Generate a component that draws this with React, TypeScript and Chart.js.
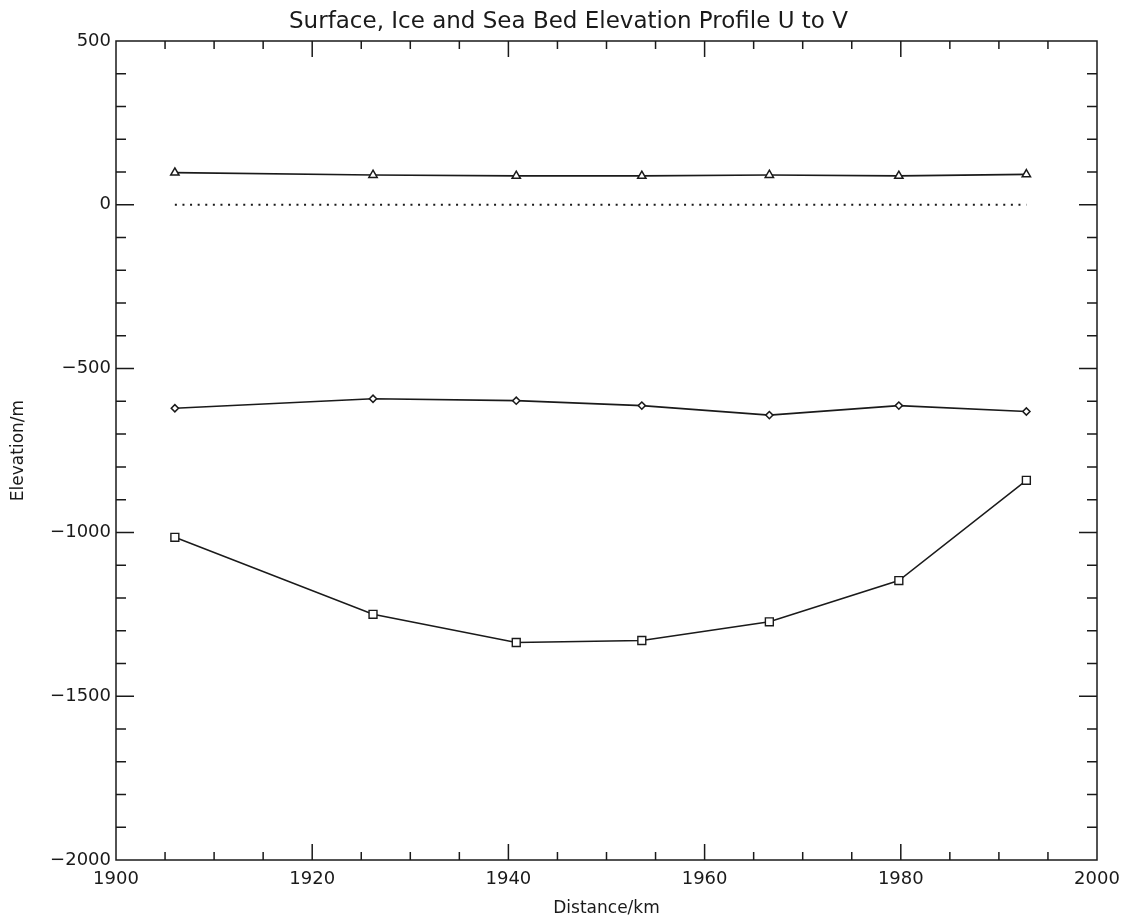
import React, { useEffect, useRef } from "react";
import { Chart, registerables } from "chart.js";

Chart.register(...registerables);

// ---- data ----
const stations = [1906.0, 1926.2, 1940.8, 1953.6, 1966.6, 1979.8, 1992.8];
const surface = [98, 91, 88, 88, 91, 88, 93];
const iceBase = [-621, -592, -598, -613, -642, -613, -631];
const seaBed = [-1015, -1250, -1336, -1330, -1273, -1147, -841];
const seaLevel = [0, 0, 0, 0, 0, 0, 0];

const xTickValues = [1900, 1920, 1940, 1960, 1980, 2000];
const yTickValues = [-2000, -1500, -1000, -500, 0, 500];
const xMinorStep = 5;
const yMinorStep = 100;

const titleText = "Surface, Ice and Sea Bed Elevation Profile U to V";
const xTitle = "Distance/km";
const yTitle = "Elevation/m";

const INK = "#1a1a1a";
const FONT = "'DejaVu Sans', 'Liberation Sans', sans-serif";

const frameTicks = {
  id: "frameTicks",
  afterDraw(chart: any) {
    const { ctx, chartArea: a, scales } = chart;
    const x = scales.x;
    const y = scales.y;
    ctx.save();
    ctx.strokeStyle = INK;
    ctx.lineWidth = 1.5;
    ctx.strokeRect(a.left, a.top, a.right - a.left, a.bottom - a.top);
    ctx.beginPath();
    const xMin = x.min, xMax = x.max;
    for (let v = xMin + xMinorStep; v < xMax; v += xMinorStep) {
      const px = x.getPixelForValue(v);
      const len = xTickValues.includes(v) ? 16 : 8;
      ctx.moveTo(px, a.bottom);
      ctx.lineTo(px, a.bottom - len);
      ctx.moveTo(px, a.top);
      ctx.lineTo(px, a.top + len);
    }
    const yMin = y.min, yMax = y.max;
    for (let v = yMin + yMinorStep; v < yMax; v += yMinorStep) {
      const py = y.getPixelForValue(v);
      const len = yTickValues.includes(v) ? 18 : 10;
      ctx.moveTo(a.left, py);
      ctx.lineTo(a.left + len, py);
      ctx.moveTo(a.right, py);
      ctx.lineTo(a.right - len, py);
    }
    ctx.stroke();
    ctx.restore();
  },
};

function toPoints(ys: number[]) {
  return stations.map((s, i) => ({ x: s, y: ys[i] }));
}

export default function App() {
  const ref = useRef<HTMLCanvasElement | null>(null);

  useEffect(() => {
    if (!ref.current) return;
    const chart = new Chart(ref.current, {
      type: "line",
      data: {
        datasets: [
          {
            label: "Surface",
            data: toPoints(surface),
            borderColor: INK,
            borderWidth: 1.7,
            pointStyle: "triangle",
            pointRadius: 4.8,
            pointBorderWidth: 1.5,
            pointBackgroundColor: "#ffffff",
            pointBorderColor: INK,
            tension: 0,
          },
          {
            label: "Sea level",
            data: toPoints(seaLevel),
            borderColor: INK,
            borderWidth: 2,
            borderDash: [2, 5.6],
            pointRadius: 0,
            tension: 0,
          },
          {
            label: "Ice base",
            data: toPoints(iceBase),
            borderColor: INK,
            borderWidth: 1.7,
            pointStyle: "rectRot",
            pointRadius: 3.6,
            pointBorderWidth: 1.5,
            pointBackgroundColor: "#ffffff",
            pointBorderColor: INK,
            tension: 0,
          },
          {
            label: "Sea bed",
            data: toPoints(seaBed),
            borderColor: INK,
            borderWidth: 1.5,
            pointStyle: "rect",
            pointRadius: 5.6,
            pointBorderWidth: 1.4,
            pointBackgroundColor: "#ffffff",
            pointBorderColor: INK,
            tension: 0,
          },
        ],
      },
      options: {
        animation: false,
        responsive: true,
        maintainAspectRatio: false,
        layout: { padding: { left: 40, right: 28, top: 0, bottom: 0 } },
        plugins: {
          legend: { display: false },
          tooltip: { enabled: false },
          title: {
            display: true,
            text: titleText,
            color: INK,
            font: { family: FONT, size: 23, weight: "normal" },
            padding: { top: 8, bottom: 5.4 },
          },
        },
        scales: {
          x: {
            type: "linear",
            min: 1900,
            max: 2000,
            afterBuildTicks: (s: any) => {
              s.ticks = xTickValues.map((v) => ({ value: v }));
            },
            afterFit: (s: any) => {
              s.height = 62;
              s.paddingLeft = 0;
              s.paddingRight = 0;
            },
            grid: { display: false, drawTicks: false },
            border: { display: false },
            ticks: {
              color: INK,
              padding: 9,
              maxRotation: 0,
              autoSkip: false,
              font: { family: FONT, size: 18 },
              callback: (v: any) => String(v),
            },
            title: {
              display: true,
              text: xTitle,
              color: INK,
              font: { family: FONT, size: 17 },
              padding: { top: 0, bottom: 3 },
            },
          },
          y: {
            type: "linear",
            min: -2000,
            max: 500,
            afterBuildTicks: (s: any) => {
              s.ticks = yTickValues.map((v) => ({ value: v }));
            },
            afterFit: (s: any) => {
              s.width = 76;
              s.paddingTop = 0;
              s.paddingBottom = 0;
            },
            grid: { display: false, drawTicks: false },
            border: { display: false },
            ticks: {
              color: INK,
              padding: 5,
              autoSkip: false,
              font: { family: FONT, size: 18 },
              callback: (v: any) =>
                Number(v) < 0 ? "\u2212" + String(Math.abs(Number(v))) : String(v),
            },
            title: {
              display: true,
              text: yTitle,
              color: INK,
              font: { family: FONT, size: 17 },
              padding: { top: -32, bottom: 0 },
            },
          },
        },
      },
      plugins: [frameTicks],
    });
    return () => chart.destroy();
  }, []);

  return (
    <div
      style={{
        position: "absolute",
        left: 0,
        top: 0,
        width: 1125,
        height: 922,
        background: "#ffffff",
      }}
    >
      <canvas ref={ref} />
    </div>
  );
}
